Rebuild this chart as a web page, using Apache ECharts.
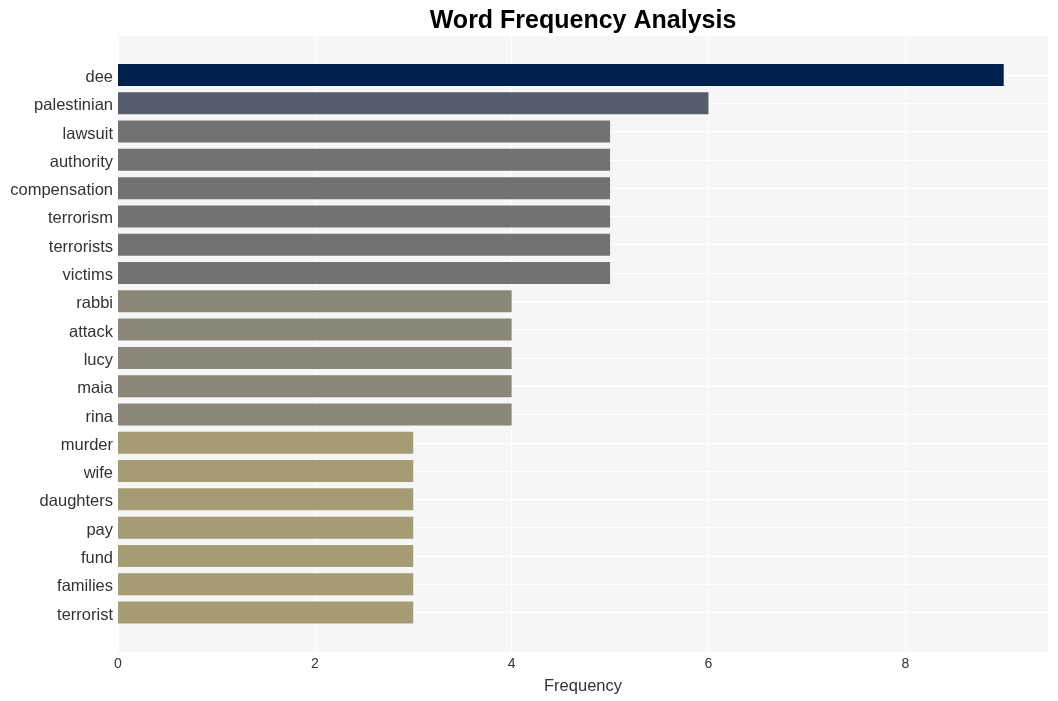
<!DOCTYPE html>
<html>
<head>
<meta charset="utf-8">
<script src="https://cdn.jsdelivr.net/npm/echarts@6/dist/echarts.min.js"></script>
<style>html,body{margin:0;padding:0;background:#fff}#c{width:1058px;height:701px}</style>
</head>
<body>
<div id="c"></div>
<script>
const words = ["dee","palestinian","lawsuit","authority","compensation","terrorism","terrorists","victims","rabbi","attack","lucy","maia","rina","murder","wife","daughters","pay","fund","families","terrorist"];
const counts = [9,6,5,5,5,5,5,5,4,4,4,4,4,3,3,3,3,3,3,3];
const barColors = ["#00204e","#575d6d","#727272","#727272","#727272","#727272","#727272","#727272","#8a8678","#8a8678","#8a8678","#8a8678","#8a8678","#a59c74","#a59c74","#a59c74","#a59c74","#a59c74","#a59c74","#a59c74"];
const xTicks = [0,2,4,6,8];

const font = "'Liberation Sans', Arial, sans-serif";
const chart = echarts.init(document.getElementById('c'), null, {renderer:'canvas'});
chart.setOption({
  animation:false,
  title:{text:"Word Frequency Analysis",left:578,textAlign:'center',top:4,
    textStyle:{fontFamily:font,fontWeight:'bold',fontSize:25,color:'#000'}},
  grid:[
    {left:118,right:10,top:36,bottom:49,show:true,backgroundColor:'#f6f6f6',borderWidth:0},
    {left:118,right:10,top:75,bottom:88.5,show:false}
  ],
  xAxis:[
    {gridIndex:0,type:'value',min:0,max:9.45,interval:2,
     name:'Frequency',nameLocation:'middle',nameGap:26,
     nameTextStyle:{fontFamily:font,fontSize:16.5,color:'#333'},
     axisLine:{show:false},axisTick:{show:false},
     axisLabel:{fontFamily:font,fontSize:14,color:'#333',margin:5,
       formatter:v=>xTicks.includes(v)?String(v):''},
     splitLine:{show:true,lineStyle:{color:'#ffffff',width:1}}},
    {gridIndex:1,type:'value',min:0,max:9.45,show:false,splitLine:{show:false}}
  ],
  yAxis:[
    {gridIndex:0,type:'value',show:false,splitLine:{show:false}},
    {gridIndex:1,type:'category',data:words,inverse:true,boundaryGap:false,
     axisLine:{show:false},axisTick:{show:false},
     axisLabel:{color:'#333',margin:5,interval:0,
       formatter:v=>'{a|'+v+'}',
       rich:{a:{fontFamily:font,fontSize:16.5,color:'#333',padding:[5,0,0,0]}}},
     splitLine:{show:true,lineStyle:{color:'#ffffff',width:1}}}
  ],
  series:[{
    type:'bar',xAxisIndex:1,yAxisIndex:1,clip:false,barWidth:22,
    data:counts.map((v,i)=>({value:v,itemStyle:{color:barColors[i]}}))
  }]
});
</script>
</body>
</html>
